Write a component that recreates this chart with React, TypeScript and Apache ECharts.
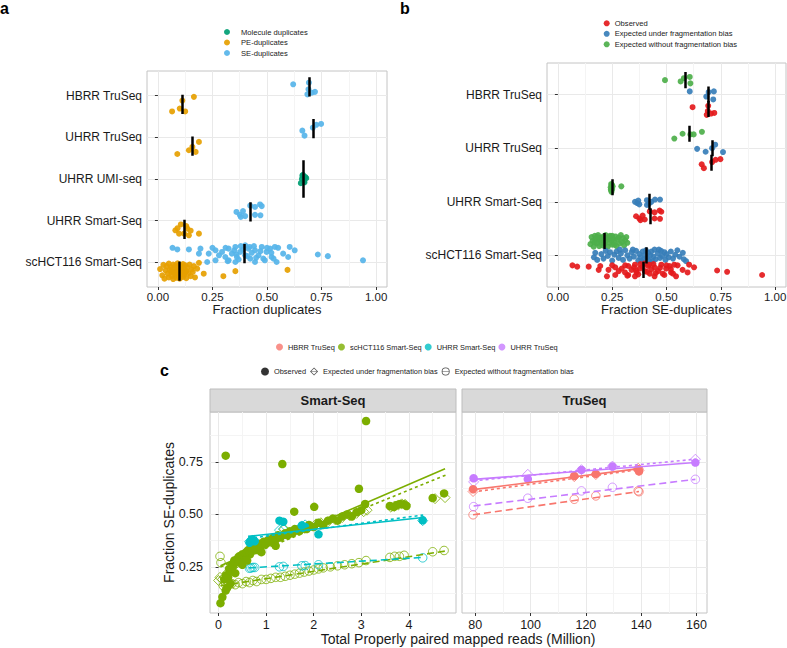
import React, { useEffect, useRef } from 'react';
import * as echarts from 'echarts';

const FONT = "'Liberation Sans', Arial, Helvetica, sans-serif";
const TXT = '#1a1a1a';

// ---------- Panel a / b categories & ticks ----------
const catsA = ['scHCT116 Smart-Seq', 'UHRR Smart-Seq', 'UHRR UMI-seq', 'UHRR TruSeq', 'HBRR TruSeq'];
const catsB = ['scHCT116 Smart-Seq', 'UHRR Smart-Seq', 'UHRR TruSeq', 'HBRR TruSeq'];
const fracTicks = [0, 0.25, 0.5, 0.75, 1];
const fracMinor = [0.125, 0.375, 0.625, 0.875];

// points: [fraction, jitter(-1..1)]
const seHBRR = [[0.62, 0.3], [0.692, 0.5], [0.69, -0.3], [0.705, -0.7], [0.72, -0.6], [0.685, -0.9]];
const peHBRR = [[0.165, 0.9], [0.112, 0.45], [0.1, -0.5], [0.065, -0.85], [0.125, -0.85]];
const seUHRRTru = [[0.726, 0.45], [0.748, 0.55], [0.662, -0.25], [0.672, -0.85], [0.71, 0.1]];
const peUHRRTru = [[0.188, 0.5], [0.158, -0.1], [0.142, -0.5], [0.173, -0.7], [0.089, -0.95]];
const molUMI = [[0.665, 0.5], [0.675, 0.25], [0.66, 0.0], [0.67, -0.25], [0.655, -0.5], [0.68, 0.1], [0.662, 0.4], [0.672, -0.4]];
const seUHRRSmart = [[0.36, 0.0], [0.375, -0.35], [0.39, 0.1], [0.4, -0.5], [0.38, -0.6], [0.423, 0.75], [0.445, 0.6], [0.468, 0.9], [0.476, 0.7], [0.445, -0.35], [0.47, -0.4]];
const peUHRRSmart = [[0.105, 0.6], [0.13, 0.4], [0.08, -0.1], [0.097, -0.5], [0.12, -0.5], [0.15, -0.15], [0.142, -0.7], [0.188, -0.5], [0.09, 0.15], [0.135, 0.1]];
const seSC = [[0.067, 0.7], [0.089, 0.5], [0.142, 0.5], [0.195, 0.6], [0.188, 0], [0.233, 0], [0.226, -1], [0.264, 0.4], [0.264, -0.8], [0.294, 0.2], [0.309, -0.4], [0.324, 0.6], [0.324, -0.8], [0.339, 0], [0.355, 0.8], [0.355, -1], [0.362, -0.4], [0.377, 0.2], [0.4, -0.2], [0.4, 1], [0.415, 0.6], [0.423, -0.6], [0.445, 0.4], [0.445, -1], [0.461, -0.2], [0.476, 0.8], [0.483, -0.6], [0.498, 0.2], [0.514, 0.6], [0.521, -0.4], [0.536, 0.8], [0.551, 0.7], [0.574, 0], [0.604, 0.8], [0.627, 0.4], [0.544, -1], [0.597, -0.4], [0.733, -0.1], [0.779, -0.3], [0.94, -0.8], [0.35, 0.4], [0.37, -0.7], [0.39, 0.5], [0.41, -0.3], [0.43, 0.1], [0.45, -0.5], [0.47, 0.3], [0.49, -0.8], [0.5, 0.7], [0.38, 0.9], [0.42, 0.8], [0.36, -0.1], [0.44, 0.9], [0.52, 0.1], [0.53, -0.6], [0.31, 0.7], [0.28, -0.2], [0.25, 0.7], [0.32, -0.9]];
const peSC = [[0.01, 0.25], [0.02, -0.5], [0.025, 0.75], [0.03, -0.9], [0.035, 0.1], [0.04, 0.6], [0.045, -0.3], [0.05, 0.9], [0.05, -0.75], [0.055, 0.2], [0.06, -0.1], [0.06, 0.5], [0.065, -0.6], [0.07, 0.8], [0.07, -0.95], [0.075, 0.3], [0.08, -0.4], [0.08, 0.65], [0.085, 0], [0.085, -0.8], [0.09, 0.95], [0.09, 0.4], [0.095, -0.2], [0.095, -0.65], [0.1, 0.75], [0.1, 0.15], [0.1, -0.9], [0.105, -0.35], [0.11, 0.55], [0.11, -0.05], [0.115, 0.85], [0.115, -0.7], [0.12, 0.25], [0.12, -0.45], [0.125, 0.7], [0.13, -0.85], [0.13, 0], [0.135, 0.45], [0.14, -0.25], [0.145, 0.8], [0.15, -0.6], [0.155, 0.2], [0.16, -0.1], [0.165, 0.6], [0.17, -0.75], [0.18, 0.3], [0.188, 1], [0.21, -0.3], [0.3, -0.6], [0.355, 0], [0.594, 0.15], [0.065, 0], [0.075, -0.25], [0.105, 0.45], [0.125, -0.15]];

// panel a, aligned with catsA
const seA = [seSC, seUHRRSmart, [], seUHRRTru, seHBRR];
const peA = [peSC, peUHRRSmart, [], peUHRRTru, peHBRR];
const molA = [[], [], molUMI, [], []];
const medSE_A = [0.395, 0.425, null, 0.71, 0.695];
const medPE_A = [0.1, 0.12, null, 0.158, 0.112];
const medMol_A = [null, null, 0.665, null, null];

// panel b, aligned with catsB
const underHBRR = [[0.607, 0.5], [0.683, -0.3], [0.694, 0.4], [0.718, 0.5], [0.715, -0.75]];
const underUHRRTru = [[0.641, -0.1], [0.68, -0.55], [0.71, 0], [0.724, 0.55], [0.76, -0.6]];
const underUHRRSmart = [[0.355, 0], [0.365, -0.2], [0.375, -0.4], [0.37, 0.2], [0.41, 0.25], [0.42, -0.25], [0.43, 0], [0.447, 0.35], [0.47, 0.35], [0.41, -0.5]];
const underSC = [[0.166, -0.3], [0.172, 0.4], [0.181, -0.7], [0.2, 0.2], [0.21, -0.5], [0.22, 0.7], [0.23, -0.1], [0.24, 0.5], [0.25, -0.8], [0.26, 0.1], [0.27, 0.6], [0.28, -0.4], [0.29, 0.3], [0.3, -0.7], [0.31, 0.8], [0.32, 0], [0.33, -0.5], [0.34, 0.5], [0.35, -0.2], [0.36, 0.7], [0.37, -0.8], [0.375, 0.2], [0.38, -0.3], [0.39, 0.6], [0.395, -0.6], [0.4, 0.1], [0.405, 0.8], [0.41, -0.4], [0.415, 0.4], [0.42, -0.8], [0.425, 0], [0.43, 0.6], [0.44, -0.2], [0.445, 0.9], [0.45, -0.6], [0.46, 0.3], [0.47, -0.4], [0.475, 0.7], [0.48, -0.1], [0.49, 0.5], [0.495, -0.7], [0.5, 0.2], [0.51, -0.3], [0.52, 0.6], [0.53, -0.5], [0.54, 0.1], [0.55, 0.8], [0.56, -0.2], [0.575, 0.4], [0.58, -0.6], [0.59, -0.9], [0.345, 0.9], [0.385, -0.9], [0.435, -0.9], [0.465, 0.9], [0.285, 0.9]];
const woHBRR = [[0.493, 0], [0.565, -0.2], [0.58, 0.3], [0.607, 0.5], [0.61, -0.5]];
const woUHRRTru = [[0.536, -0.75], [0.574, 0], [0.61, -0.1], [0.625, -0.1], [0.663, 0.3]];
const woUHRRSmart = [[0.245, 0.5], [0.248, 0.25], [0.243, 0], [0.25, -0.25], [0.246, -0.5], [0.252, 0.15], [0.244, -0.35], [0.249, 0.4], [0.292, 0.15], [0.247, -0.7]];
const woSC = [[0.15, -0.5], [0.155, 0.6], [0.16, 0], [0.165, -0.9], [0.17, 0.8], [0.175, 0.3], [0.18, -0.4], [0.185, 0.9], [0.19, -0.8], [0.195, 0.1], [0.2, 0.5], [0.2, -0.2], [0.205, -0.7], [0.21, 0.7], [0.21, 0.2], [0.215, -0.5], [0.22, 0.9], [0.22, -0.1], [0.225, 0.4], [0.23, -0.9], [0.235, 0.6], [0.24, -0.3], [0.245, 0.1], [0.25, 0.8], [0.25, -0.6], [0.255, 0.3], [0.26, -0.1], [0.265, 0.7], [0.27, -0.8], [0.275, 0.2], [0.28, 0.5], [0.285, -0.4], [0.29, 0.9], [0.295, -0.2], [0.3, 0.4], [0.305, -0.7], [0.31, 0.1], [0.315, 0.6], [0.32, -0.3], [0.17, -0.2], [0.19, 0.4], [0.23, 0.3], [0.26, -0.6], [0.18, 0.6], [0.24, 0.8]];
const obsB = [seSC, seUHRRSmart, seUHRRTru, seHBRR];
const underB = [underSC, underUHRRSmart, underUHRRTru, underHBRR];
const woB = [woSC, woUHRRSmart, woUHRRTru, woHBRR];
const medObsB = [0.391, 0.425, 0.706, 0.69];
const medUnderB = [0.406, 0.422, 0.71, 0.694];
const medWoB = [0.212, 0.25, 0.607, 0.584];

// ---------- Panel c ----------
const smartTicks = [0, 1, 2, 3, 4];
const smartMinor = [0.5, 1.5, 2.5, 3.5, 4.5];
const truTicks = [80, 100, 120, 140, 160];
const truMinor = [90, 110, 130, 150];
const cYTicks = [0.25, 0.5, 0.75];
const cYMinor = [0.125, 0.375, 0.625, 0.875];

const scObs = [[0.04, 0.077], [0.08, 0.106], [0.15, 0.137], [0.15, 0.78], [1.34, 0.74], [3.1, 0.945], [2.95, 0.622], [2.01, 0.536], [1.59, 0.513], [4.5, 0.578], [4.74, 0.6], [0.12, 0.19], [0.16, 0.21], [0.2, 0.2], [0.22, 0.24], [0.25, 0.23], [0.28, 0.26], [0.3, 0.25], [0.33, 0.28], [0.36, 0.27], [0.4, 0.29], [0.43, 0.3], [0.45, 0.28], [0.5, 0.31], [0.55, 0.3], [0.58, 0.32], [0.62, 0.33], [0.66, 0.31], [0.7, 0.34], [0.75, 0.35], [0.8, 0.33], [0.85, 0.36], [0.9, 0.35], [0.95, 0.37], [1.0, 0.36], [1.05, 0.38], [1.1, 0.37], [1.15, 0.39], [1.2, 0.38], [1.25, 0.4], [1.3, 0.39], [1.4, 0.41], [1.45, 0.4], [1.5, 0.42], [1.55, 0.41], [1.6, 0.43], [1.7, 0.42], [1.75, 0.44], [1.85, 0.43], [1.9, 0.45], [2.0, 0.44], [2.1, 0.46], [2.2, 0.45], [2.3, 0.47], [2.4, 0.48], [2.5, 0.47], [2.6, 0.49], [2.7, 0.5], [2.8, 0.49], [2.9, 0.51], [3.0, 0.52], [3.08, 0.55], [3.6, 0.54], [3.68, 0.535], [3.75, 0.545], [3.82, 0.55], [3.9, 0.548], [3.95, 0.54], [0.6, 0.28], [0.9, 0.32], [1.2, 0.35], [0.35, 0.22], [0.5, 0.26], [0.18, 0.15], [0.25, 0.17]];
const scUnder = [[0.0, 0.185], [0.03, 0.2], [0.08, 0.19], [0.12, 0.2], [0.18, 0.22], [0.25, 0.24], [0.32, 0.255], [0.4, 0.27], [0.48, 0.285], [0.55, 0.3], [0.65, 0.315], [0.75, 0.33], [0.85, 0.345], [0.95, 0.355], [1.05, 0.37], [1.15, 0.38], [1.25, 0.395], [1.38, 0.43], [1.45, 0.405], [1.55, 0.415], [1.65, 0.425], [1.78, 0.435], [1.9, 0.445], [2.05, 0.455], [2.15, 0.46], [2.3, 0.465], [2.45, 0.475], [2.6, 0.485], [2.75, 0.495], [2.9, 0.505], [3.05, 0.513], [3.12, 0.52], [3.62, 0.535], [3.7, 0.54], [3.78, 0.545], [3.85, 0.55], [3.92, 0.548], [4.55, 0.575], [4.76, 0.58]];
const scWo = [[0.03, 0.3], [0.05, 0.27], [0.1, 0.16], [0.15, 0.165], [0.2, 0.16], [0.28, 0.17], [0.35, 0.165], [0.42, 0.175], [0.5, 0.17], [0.58, 0.18], [0.65, 0.175], [0.72, 0.185], [0.8, 0.18], [0.9, 0.19], [1.0, 0.19], [1.1, 0.195], [1.2, 0.2], [1.3, 0.2], [1.4, 0.205], [1.5, 0.21], [1.6, 0.215], [1.7, 0.22], [1.8, 0.225], [1.9, 0.23], [2.0, 0.235], [2.1, 0.24], [2.2, 0.245], [2.35, 0.25], [2.5, 0.255], [2.65, 0.26], [2.8, 0.265], [2.95, 0.27], [3.1, 0.28], [3.6, 0.295], [3.7, 0.3], [3.8, 0.3], [3.9, 0.305], [4.5, 0.322], [4.74, 0.328]];
const usObs = [[0.65, 0.365], [0.68, 0.375], [0.72, 0.38], [0.76, 0.372], [1.28, 0.47], [1.36, 0.465], [1.75, 0.447], [1.82, 0.44], [2.1, 0.405], [4.29, 0.472]];
const usUnder = [[0.65, 0.37], [0.68, 0.36], [0.72, 0.375], [0.76, 0.365], [1.28, 0.425], [1.36, 0.43], [1.75, 0.445], [1.82, 0.45], [2.1, 0.455], [4.29, 0.47]];
const usWo = [[0.65, 0.243], [0.68, 0.245], [0.72, 0.247], [0.76, 0.247], [1.28, 0.25], [1.36, 0.252], [1.75, 0.255], [1.82, 0.256], [2.1, 0.26], [4.29, 0.293]];
const hbObs = [[79.2, 0.62], [115.8, 0.683], [123.6, 0.693], [138.9, 0.715], [139.2, 0.705]];
const hbUnder = [[79.2, 0.609], [115.8, 0.68], [123.6, 0.69], [138.9, 0.72], [139.2, 0.71]];
const hbWo = [[79.2, 0.498], [115.8, 0.572], [123.6, 0.588], [138.9, 0.612], [139.2, 0.608]];
const utObs = [[79.4, 0.672], [99, 0.668], [118.4, 0.712], [129.6, 0.728], [159.6, 0.747]];
const utUnder = [[79.4, 0.655], [99, 0.691], [118.4, 0.713], [129.6, 0.73], [159.6, 0.763]];
const utWo = [[79.4, 0.537], [99, 0.577], [118.4, 0.612], [129.6, 0.629], [159.6, 0.667]];

// fitted regression lines (endpoints)
const scFitObs = [[0.04, 0.255], [4.76, 0.718]];
const scFitUnder = [[0.04, 0.25], [4.78, 0.688]];
const scFitWo = [[0.04, 0.16], [4.76, 0.325]];
const usFitObs = [[0.62, 0.395], [4.3, 0.485]];
const usFitUnder = [[0.62, 0.385], [4.3, 0.497]];
const usFitWo = [[0.64, 0.245], [4.3, 0.295]];
const hbFitObs = [[79.2, 0.618], [139.2, 0.718]];
const hbFitUnder = [[79.2, 0.607], [139.2, 0.713]];
const hbFitWo = [[79.2, 0.498], [139.2, 0.609]];
const utFitObs = [[79.4, 0.667], [159.6, 0.747]];
const utFitUnder = [[79.4, 0.66], [159.6, 0.763]];
const utFitWo = [[79.4, 0.54], [159.6, 0.667]];

const C_SE = '#56B4E9', C_PE = '#E69F00', C_MOL = '#009E73';
const C_OBS = '#E41A1C', C_UNDER = '#377EB8', C_WO = '#4DAF4A';
const C_HB = '#F8766D', C_SC = '#7CAE00', C_US = '#00BFC4', C_UT = '#C77CFF';

function jitterPts(groups: number[][][], offset: number, half: number) {
  const out: number[][] = [];
  groups.forEach((pts, i) => {
    pts.forEach(([x, j]) => out.push([x, i + 1 + offset + j * half]));
  });
  return out;
}
function medianBars(meds: (number | null)[], offset: number, half: number) {
  const out: any[] = [];
  meds.forEach((m, i) => {
    if (m == null) return;
    const c = i + 1 + offset;
    out.push({ coords: [[m, c - half], [m, c + half]] });
  });
  return out;
}

const lab = (fontSize: number, margin: number, ticks: number[], fmt: any) => ({
  show: true, customValues: ticks, formatter: fmt, fontSize, color: TXT, fontFamily: FONT, margin,
});
const tick = (ticks: number[], show = true) => ({ show, length: 3, lineStyle: { color: '#333', width: 1 }, customValues: ticks });
const major = { show: true, lineStyle: { color: '#e9e9e9', width: 1 } };
const minorAx = (gridIndex: number, min: number, max: number, ticks: number[]) => ({
  type: 'value', gridIndex, min, max,
  axisLine: { show: false }, axisTick: { show: false, customValues: ticks }, axisLabel: { show: false, customValues: ticks },
  splitLine: { show: true, lineStyle: { color: '#f4f4f4', width: 1 } },
});
const nameStyle = (fs: number) => ({ fontSize: fs, color: TXT, fontFamily: FONT });
const f2 = (v: number) => v.toFixed(2);

const ringPath = 'path://M0,10A10,10 0 1,1 20,10A10,10 0 1,1 0,10ZM2,10A8,8 0 1,0 18,10A8,8 0 1,0 2,10ZM1,9.1L19,9.1L19,10.9L1,10.9Z';
const diamondPath = 'path://M10,0L20,10L10,20L0,10ZM10,2.4L2.4,10L10,17.6L17.6,10ZM1,9.2L19,9.2L19,10.8L1,10.8Z';

export default function App() {
  const ref = useRef<HTMLDivElement>(null);
  useEffect(() => {
    if (!ref.current) return;
    const chart = echarts.init(ref.current, null, { renderer: 'svg' });
    const scat = (name: string, xi: number, yi: number, data: any[], color: string, size: number, opacity = 0.92) => ({
      type: 'scatter', name, xAxisIndex: xi, yAxisIndex: yi, data, symbolSize: size, silent: true,
      itemStyle: { color, opacity }, emphasis: { disabled: true }, z: 3,
    });
    const openScat = (name: string, xi: number, yi: number, data: any[], color: string, symbol: string, size: number) => ({
      type: 'scatter', name, xAxisIndex: xi, yAxisIndex: yi, data, symbol, symbolSize: size, silent: true,
      itemStyle: { color: 'rgba(255,255,255,0)', borderColor: color, borderWidth: 1 }, emphasis: { disabled: true }, z: 3,
    });
    const fit = (name: string, xi: number, yi: number, data: any[], color: string, type: any) => ({
      type: 'line', name, xAxisIndex: xi, yAxisIndex: yi, data, showSymbol: false, symbol: 'none', silent: true,
      lineStyle: { color, width: 1.6, type }, emphasis: { disabled: true }, z: 4,
    });
    const bars = (xi: number, yi: number, data: any[]) => ({
      type: 'lines', coordinateSystem: 'cartesian2d', xAxisIndex: xi, yAxisIndex: yi, data, silent: true,
      lineStyle: { color: '#000', width: 2.5, opacity: 1, curveness: 0 }, z: 5,
    });
    const dummy = (name: string, color: string) => ({ type: 'scatter', name, xAxisIndex: 4, yAxisIndex: 2, data: [], itemStyle: { color } });
    const DASH_UNDER = [3, 3];
    const DASH_WO = [7, 4];
    const gridBase = { show: true, borderColor: '#c4c4c4', borderWidth: 1, outerBoundsMode: 'none' };

    const option: any = {
      animation: false,
      textStyle: { fontFamily: FONT },
      grid: [
        { left: 147, top: 71, width: 240, height: 216, ...gridBase },
        { left: 547, top: 63, width: 239, height: 224, ...gridBase },
        { left: 210, top: 412, width: 246, height: 201, ...gridBase },
        { left: 462, top: 412, width: 245, height: 201, ...gridBase },
      ],
      xAxis: [
        { type: 'value', gridIndex: 0, min: -0.05, max: 1.05, axisLine: { show: false }, axisTick: tick(fracTicks), axisLabel: lab(11.5, 4, fracTicks, f2), splitLine: major,
          name: 'Fraction duplicates', nameLocation: 'middle', nameGap: 16, nameMoveOverlap: false, nameTextStyle: nameStyle(13) },
        minorAx(0, -0.05, 1.05, fracMinor),
        { type: 'value', gridIndex: 1, min: -0.05, max: 1.05, axisLine: { show: false }, axisTick: tick(fracTicks), axisLabel: lab(11.5, 4, fracTicks, f2), splitLine: major,
          name: 'Fraction SE-duplicates', nameLocation: 'middle', nameGap: 16, nameMoveOverlap: false, nameTextStyle: nameStyle(13) },
        minorAx(1, -0.05, 1.05, fracMinor),
        { type: 'value', gridIndex: 2, min: -0.18, max: 4.99, axisLine: { show: false }, axisTick: tick(smartTicks), axisLabel: lab(12.5, 5, smartTicks, (v: number) => String(v)), splitLine: major },
        minorAx(2, -0.18, 4.99, smartMinor),
        { type: 'value', gridIndex: 3, min: 75.2, max: 163.8, axisLine: { show: false }, axisTick: tick(truTicks), axisLabel: lab(12.5, 5, truTicks, (v: number) => String(v)), splitLine: major },
        minorAx(3, 75.2, 163.8, truMinor),
      ],
      yAxis: [
        { type: 'value', gridIndex: 0, min: 0.41, max: 5.59, axisLine: { show: false }, axisTick: tick([1, 2, 3, 4, 5]),
          axisLabel: lab(12, 5, [1, 2, 3, 4, 5], (v: number) => catsA[Math.round(v) - 1]), splitLine: major },
        { type: 'value', gridIndex: 1, min: 0.41, max: 4.59, axisLine: { show: false }, axisTick: tick([1, 2, 3, 4]),
          axisLabel: lab(12, 5, [1, 2, 3, 4], (v: number) => catsB[Math.round(v) - 1]), splitLine: major },
        { type: 'value', gridIndex: 2, min: 0.03, max: 0.988, axisLine: { show: false }, axisTick: tick(cYTicks), axisLabel: lab(12.5, 7, cYTicks, f2), splitLine: major,
          name: 'Fraction SE-duplicates', nameLocation: 'middle', nameGap: 34, nameMoveOverlap: false, nameTextStyle: nameStyle(14) },
        minorAx(2, 0.03, 0.988, cYMinor),
        { type: 'value', gridIndex: 3, min: 0.03, max: 0.988, axisLine: { show: false }, axisTick: tick(cYTicks, false), axisLabel: { show: false, customValues: cYTicks }, splitLine: major },
        minorAx(3, 0.03, 0.988, cYMinor),
      ],
      legend: [
        { orient: 'vertical', left: 224, top: 28, itemWidth: 18, itemHeight: 6, itemGap: 2.5, padding: 0, icon: 'circle', selectedMode: false,
          data: ['Molecule duplicates', 'PE-duplicates', 'SE-duplicates'], textStyle: { fontSize: 7.6, lineHeight: 8, color: TXT, fontFamily: FONT } },
        { orient: 'vertical', left: 603.7, top: 19.3, itemWidth: 6, itemHeight: 6, itemGap: 2.5, padding: 0, icon: 'circle', selectedMode: false,
          data: ['Observed', 'Expected under fragmentation bias', 'Expected without fragmentation bias'], textStyle: { fontSize: 7.6, lineHeight: 8, color: TXT, fontFamily: FONT } },
        { orient: 'horizontal', left: 276, top: 343, itemWidth: 7, itemHeight: 7, itemGap: 3, padding: 0, icon: 'circle', selectedMode: false,
          data: ['HBRR TruSeq', 'scHCT116 Smart-Seq', 'UHRR Smart-Seq', 'UHRR TruSeq'], textStyle: { fontSize: 7.4, lineHeight: 8, color: TXT, fontFamily: FONT } },
        { orient: 'horizontal', left: 261, top: 367.5, itemWidth: 8, itemHeight: 8, itemGap: 4, padding: 0, selectedMode: false,
          formatter: (n: string) => n.replace('c:', ''),
          data: [
            { name: 'c:Observed', icon: 'circle', itemStyle: { color: '#000' } },
            { name: 'c:Expected under fragmentation bias', icon: diamondPath, itemStyle: { color: '#222' } },
            { name: 'c:Expected without fragmentation bias', icon: ringPath, itemStyle: { color: '#222' } },
          ],
          textStyle: { fontSize: 7.4, lineHeight: 8, color: TXT, fontFamily: FONT } },
      ],
      series: [
        // panel a
        scat('SE-duplicates', 0, 0, jitterPts(seA, 0.21, 0.2), C_SE, 6),
        scat('PE-duplicates', 0, 0, jitterPts(peA, -0.21, 0.2), C_PE, 6),
        scat('Molecule duplicates', 0, 0, jitterPts(molA, 0, 0.2), C_MOL, 6),
        bars(0, 0, [...medianBars(medSE_A, 0.21, 0.23), ...medianBars(medPE_A, -0.21, 0.23), ...medianBars(medMol_A, 0, 0.45)]),
        // panel b
        scat('Expected without fragmentation bias', 2, 1, jitterPts(woB, 0.27, 0.12), C_WO, 6),
        scat('Expected under fragmentation bias', 2, 1, jitterPts(underB, 0, 0.12), C_UNDER, 6),
        scat('Observed', 2, 1, jitterPts(obsB, -0.27, 0.12), C_OBS, 6),
        bars(2, 1, [...medianBars(medWoB, 0.27, 0.15), ...medianBars(medUnderB, 0, 0.15), ...medianBars(medObsB, -0.27, 0.15)]),
        // panel c, Smart-Seq
        openScat('sc-wo', 4, 2, scWo, C_SC, 'circle', 8.5),
        openScat('us-wo', 4, 2, usWo, C_US, 'circle', 8.5),
        openScat('sc-under', 4, 2, scUnder, C_SC, 'diamond', 10),
        openScat('us-under', 4, 2, usUnder, C_US, 'diamond', 10),
        scat('sc-obs', 4, 2, scObs, C_SC, 8.5, 1),
        scat('us-obs', 4, 2, usObs, C_US, 8.5, 1),
        fit('sc-fit-obs', 4, 2, scFitObs, C_SC, 'solid'),
        fit('sc-fit-under', 4, 2, scFitUnder, C_SC, DASH_UNDER),
        fit('sc-fit-wo', 4, 2, scFitWo, C_SC, DASH_WO),
        fit('us-fit-obs', 4, 2, usFitObs, C_US, 'solid'),
        fit('us-fit-under', 4, 2, usFitUnder, C_US, DASH_UNDER),
        fit('us-fit-wo', 4, 2, usFitWo, C_US, DASH_WO),
        // panel c, TruSeq
        openScat('hb-wo', 6, 4, hbWo, C_HB, 'circle', 8.5),
        openScat('ut-wo', 6, 4, utWo, C_UT, 'circle', 8.5),
        openScat('hb-under', 6, 4, hbUnder, C_HB, 'diamond', 10),
        openScat('ut-under', 6, 4, utUnder, C_UT, 'diamond', 10),
        scat('hb-obs', 6, 4, hbObs, C_HB, 8.5, 1),
        scat('ut-obs', 6, 4, utObs, C_UT, 8.5, 1),
        fit('hb-fit-obs', 6, 4, hbFitObs, C_HB, 'solid'),
        fit('hb-fit-under', 6, 4, hbFitUnder, C_HB, DASH_UNDER),
        fit('hb-fit-wo', 6, 4, hbFitWo, C_HB, DASH_WO),
        fit('ut-fit-obs', 6, 4, utFitObs, C_UT, 'solid'),
        fit('ut-fit-under', 6, 4, utFitUnder, C_UT, DASH_UNDER),
        fit('ut-fit-wo', 6, 4, utFitWo, C_UT, DASH_WO),
        // legend-only series
        dummy('HBRR TruSeq', C_HB),
        dummy('scHCT116 Smart-Seq', C_SC),
        dummy('UHRR Smart-Seq', C_US),
        dummy('UHRR TruSeq', C_UT),
        dummy('c:Observed', '#000'),
        dummy('c:Expected under fragmentation bias', '#222'),
        dummy('c:Expected without fragmentation bias', '#222'),
      ],
      graphic: [
        { type: 'text', x: 0, y: 0, style: { text: 'a', font: `bold 16px ${FONT}`, fill: '#000', align: 'left', verticalAlign: 'top' } },
        { type: 'text', x: 400, y: 0, style: { text: 'b', font: `bold 16px ${FONT}`, fill: '#000', align: 'left', verticalAlign: 'top' } },
        { type: 'text', x: 160, y: 362, style: { text: 'c', font: `bold 16px ${FONT}`, fill: '#000', align: 'left', verticalAlign: 'top' } },
        { type: 'rect', shape: { x: 210, y: 389, width: 246, height: 23 }, style: { fill: '#D9D9D9', stroke: '#bdbdbd', lineWidth: 1 } },
        { type: 'rect', shape: { x: 462, y: 389, width: 245, height: 23 }, style: { fill: '#D9D9D9', stroke: '#bdbdbd', lineWidth: 1 } },
        { type: 'text', x: 333, y: 400.5, style: { text: 'Smart-Seq', font: `bold 13px ${FONT}`, fill: TXT, align: 'center', verticalAlign: 'middle' } },
        { type: 'text', x: 584.5, y: 400.5, style: { text: 'TruSeq', font: `bold 13px ${FONT}`, fill: TXT, align: 'center', verticalAlign: 'middle' } },
        { type: 'text', x: 458, y: 639, style: { text: 'Total Properly paired mapped reads (Million)', font: `14px ${FONT}`, fill: TXT, align: 'center', verticalAlign: 'middle' } },
      ],
    };
    chart.setOption(option);
    return () => chart.dispose();
  }, []);
  return <div ref={ref} style={{ position: 'fixed', left: 0, top: 0, width: 787, height: 648, background: '#fff' }} />;
}
